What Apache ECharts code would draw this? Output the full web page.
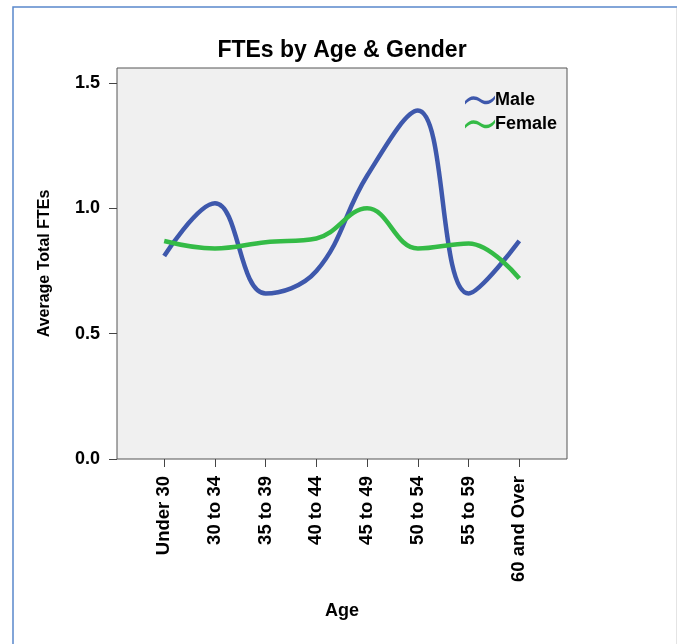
<!DOCTYPE html>
<html>
<head>
<meta charset="utf-8">
<script src="https://cdn.jsdelivr.net/npm/echarts@6/dist/echarts.min.js"></script>
<style>
  html, body { margin: 0; padding: 0; background: #fff; }
  #main { width: 677px; height: 644px; }
</style>
</head>
<body>
<div id="main"></div>
<script>
// values
var ageGroups = ['Under 30', '30 to 34', '35 to 39', '40 to 44', '45 to 49', '50 to 54', '55 to 59', '60 and Over'];
var maleFTE   = [0.81, 1.02, 0.66, 0.75, 1.13, 1.39, 0.66, 0.87];
var femaleFTE = [0.87, 0.84, 0.865, 0.88, 1.00, 0.84, 0.86, 0.72];
var yTicks = [0, 0.5, 1.0, 1.5];

var font = 'Arial, "Liberation Sans", sans-serif';
var waveIcon = 'path://M0,7 C5,1 10,1 15,4.5 C20,8 25,8 30,1.5 L30,5 C25,11.5 20,11.5 15,8 C10,4.5 5,4.5 0,10.5 Z';

function toPoints(arr) {
  return arr.map(function (v, i) { return [i, v]; });
}

var xIdx = ageGroups.map(function (c, i) { return i; });

var chart = echarts.init(document.getElementById('main'));
var option = {
  animation: false,
  backgroundColor: '#fff',
  textStyle: { fontFamily: font },
  title: {
    text: 'FTEs by Age & Gender',
    left: 337, top: 34, textAlign: 'center',
    textStyle: { fontSize: 23, fontWeight: 'bold', color: '#000', fontFamily: font }
  },
  legend: {
    orient: 'vertical',
    left: 460, top: 86,
    itemWidth: 30, itemHeight: 11, itemGap: 6,
    textStyle: { fontSize: 18, fontWeight: 'bold', color: '#000', padding: [0, 0, 0, -5] },
    data: [
      { name: 'Male', icon: waveIcon },
      { name: 'Female', icon: waveIcon }
    ]
  },
  grid: {
    left: 117, top: 68, right: 110, bottom: 185,
    show: true, backgroundColor: '#f0f0f0',
    borderColor: '#555', borderWidth: 1,
    outerBoundsMode: 'none'
  },
  xAxis: {
    type: 'value',
    min: -0.93, max: 7.94,
    name: 'Age', nameLocation: 'middle', nameGap: 143,
    nameTextStyle: { fontSize: 18, fontWeight: 'bold', color: '#000' },
    axisLine: { show: false, onZero: false },
    splitLine: { show: false },
    axisTick: { show: true, length: 8, lineStyle: { color: '#444' }, customValues: xIdx },
    axisLabel: {
      customValues: xIdx, rotate: 90, margin: 17,
      fontSize: 18.5, fontWeight: 'bold', color: '#000',
      formatter: function (v) { return ageGroups[Math.round(v)]; }
    }
  },
  yAxis: {
    type: 'value',
    min: 0, max: 1.56,
    name: 'Average Total FTEs', nameLocation: 'middle', nameGap: 64,
    nameTextStyle: { fontSize: 16, fontWeight: 'bold', color: '#000' },
    axisLine: { show: false, onZero: false },
    splitLine: { show: false },
    axisTick: { show: true, length: 8, lineStyle: { color: '#444' }, customValues: yTicks },
    axisLabel: {
      customValues: yTicks, margin: 17,
      fontSize: 18, fontWeight: 'bold', color: '#000',
      formatter: function (v) { return v.toFixed(1); }
    }
  },
  graphic: [
    {
      type: 'rect', silent: true, z: -1,
      shape: { x: 13, y: 7, width: 700, height: 700 },
      style: { fill: null, stroke: '#5a88cc', lineWidth: 1.5 }
    },
    {
      type: 'line', silent: true, z: -1,
      shape: { x1: 676.5, y1: 8, x2: 676.5, y2: 644 },
      style: { stroke: '#e4e4e4', lineWidth: 1 }
    }
  ],
  series: [
    {
      name: 'Male', type: 'line', smooth: 0.4, symbol: 'none',
      data: toPoints(maleFTE),
      itemStyle: { color: '#3e58ac' },
      lineStyle: { color: '#3e58ac', width: 4.5 }
    },
    {
      name: 'Female', type: 'line', smooth: 0.4, symbol: 'none',
      data: toPoints(femaleFTE),
      itemStyle: { color: '#34bb46' },
      lineStyle: { color: '#34bb46', width: 4.5 }
    }
  ]
};
chart.setOption(option);
</script>
</body>
</html>
